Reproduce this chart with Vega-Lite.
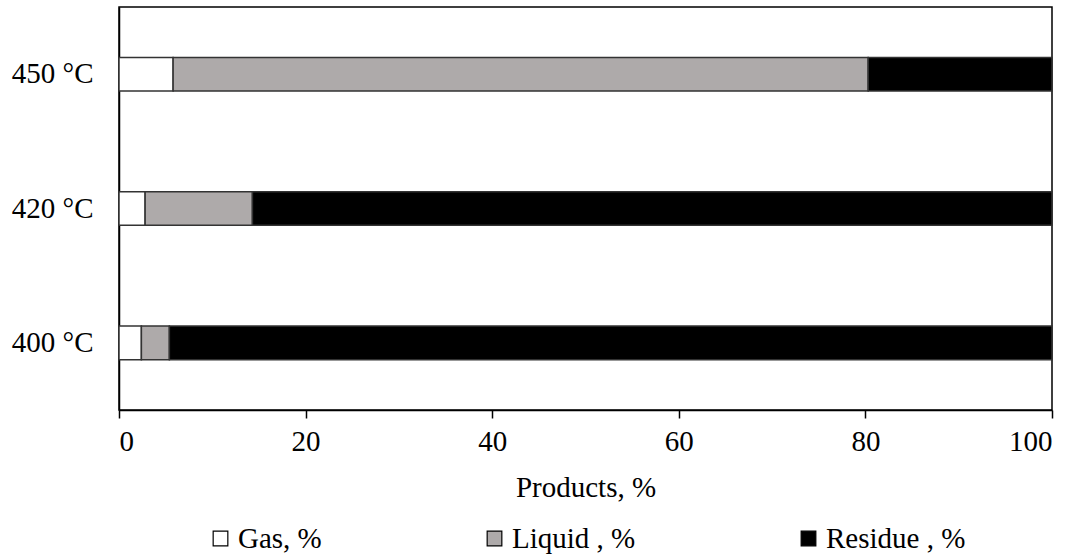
{
  "$schema": "https://vega.github.io/schema/vega-lite/v6.json",
  "width": 933,
  "height": 403,
  "autosize": {"type": "none"},
  "padding": {"left": 119, "top": 7, "right": 26, "bottom": 146},
  "background": "white",
  "config": {
    "font": "Liberation Serif, Times New Roman, serif",
    "view": {"stroke": "black", "strokeWidth": 1.5},
    "axis": {"grid": false, "labelFont": "Liberation Serif, Times New Roman, serif", "titleFont": "Liberation Serif, Times New Roman, serif", "labelColor": "black", "titleColor": "black", "domainColor": "black", "tickColor": "black", "labelFontSize": 29, "titleFontSize": 29, "titleFontWeight": "normal"},
    "legend": {"labelFont": "Liberation Serif, Times New Roman, serif", "labelFontSize": 29, "labelColor": "black", "layout": {"bottom": {"anchor": "middle"}}}
  },
  "data": {
    "values": [
      {"temp": "400 °C", "product": "Gas, %", "value": 2.4},
      {"temp": "400 °C", "product": "Liquid , %", "value": 3.0},
      {"temp": "400 °C", "product": "Residue , %", "value": 94.6},
      {"temp": "420 °C", "product": "Gas, %", "value": 2.8},
      {"temp": "420 °C", "product": "Liquid , %", "value": 11.5},
      {"temp": "420 °C", "product": "Residue , %", "value": 85.7},
      {"temp": "450 °C", "product": "Gas, %", "value": 5.8},
      {"temp": "450 °C", "product": "Liquid , %", "value": 74.5},
      {"temp": "450 °C", "product": "Residue , %", "value": 19.7}
    ]
  },
  "mark": {"type": "bar", "stroke": "#333333", "strokeWidth": 1.5},
  "encoding": {
    "y": {
      "field": "temp", "type": "nominal",
      "sort": ["450 °C", "420 °C", "400 °C"],
      "scale": {"paddingInner": 0.75, "paddingOuter": 0.375},
      "axis": {"title": null, "ticks": false, "labelPadding": 26, "domainWidth": 1.5}
    },
    "x": {
      "field": "value", "type": "quantitative", "stack": "zero",
      "scale": {"domain": [0, 100], "nice": false},
      "axis": {"title": "Products, %", "values": [0, 20, 40, 60, 80, 100], "tickSize": 8, "tickWidth": 1.5, "domainWidth": 1.5, "labelPadding": 9, "titlePadding": 17}
    },
    "color": {
      "field": "product", "type": "nominal",
      "scale": {"domain": ["Gas, %", "Liquid , %", "Residue , %"], "range": ["#FFFFFF", "#AEAAAA", "#000000"]},
      "legend": {"title": null, "orient": "bottom", "direction": "horizontal", "columns": 3, "gridAlign": "none", "columnPadding": 158, "symbolType": "square", "symbolSize": 215, "symbolStrokeColor": "black", "symbolStrokeWidth": 1.2, "labelOffset": 3, "offset": 22}
    },
    "order": {"field": "product", "type": "nominal"}
  }
}
